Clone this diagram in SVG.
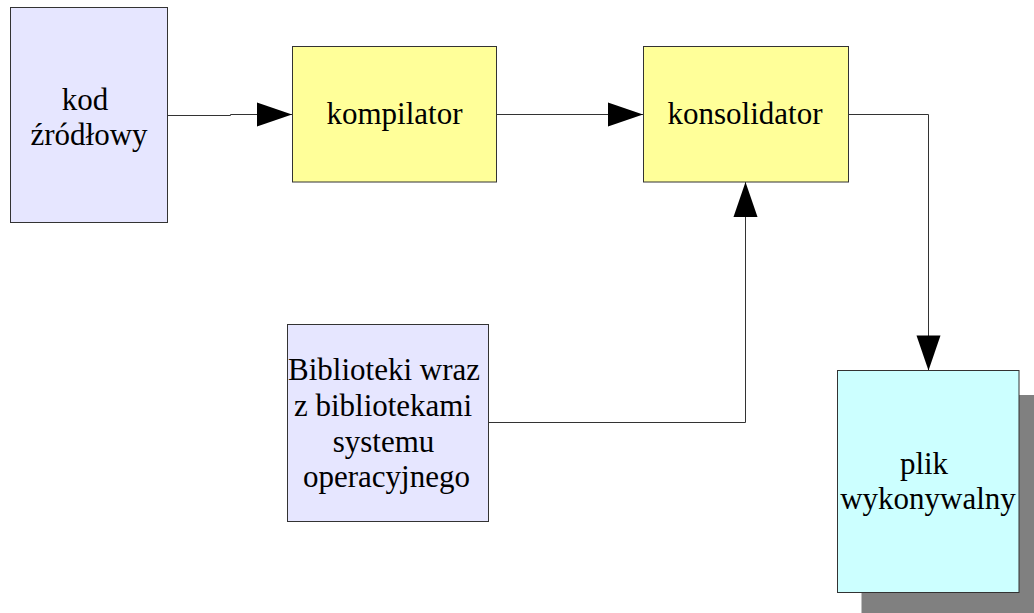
<svg xmlns="http://www.w3.org/2000/svg" width="1034" height="613" viewBox="0 0 1034 613">
  <style>
    .box { stroke: #333333; stroke-width: 1; }
    .src { fill: #e6e6ff; }
    .tool { fill: #ffff99; }
    .out { fill: #ccffff; }
    .shadow { fill: #808080; }
    .lbl { font-size: 31px; fill: #000000; text-anchor: middle; }
    .conn { fill: none; stroke: #333333; stroke-width: 1; }
  </style>
  <defs>
    <marker id="arrow" markerUnits="userSpaceOnUse" markerWidth="35" markerHeight="24" refX="35" refY="12" orient="auto" overflow="visible">
      <path d="M0,0 L35,12 L0,24 Z" fill="#000000"/>
    </marker>
  </defs>

  <rect width="1034" height="613" fill="#ffffff"/>

  <!-- connectors -->
  <g id="connectors">
    <path class="conn" d="M168,115.5 H230.5 V114.5 H292" marker-end="url(#arrow)"/>
    <path class="conn" d="M497,114.5 H643" marker-end="url(#arrow)"/>
    <path class="conn" d="M849,114.5 H928.5 V370.5" marker-end="url(#arrow)"/>
    <path class="conn" d="M488.5,422.5 H745.5 V182" marker-end="url(#arrow)"/>
  </g>

  <g font-family="'Liberation Serif', 'Times New Roman', Times, serif">
    <!-- source code -->
    <g id="kod-zrodlowy">
      <rect class="box src" x="10.5" y="7.5" width="157" height="215"/>
      <text class="lbl" x="85" y="110">kod</text>
      <text class="lbl" x="89" y="145">źródłowy</text>
    </g>

    <!-- compiler -->
    <g id="kompilator">
      <rect class="box tool" x="292.5" y="46.5" width="204" height="135.5"/>
      <text class="lbl" x="394.5" y="124">kompilator</text>
    </g>

    <!-- linker -->
    <g id="konsolidator">
      <rect class="box tool" x="643.5" y="46.5" width="205" height="135.5"/>
      <text class="lbl" x="745" y="124">konsolidator</text>
    </g>

    <!-- libraries -->
    <g id="biblioteki">
      <rect class="box src" x="287.5" y="324.5" width="201" height="197"/>
      <text class="lbl" x="384" y="380">Biblioteki wraz</text>
      <text class="lbl" x="383" y="416">z bibliotekami</text>
      <text class="lbl" x="383.5" y="451.5">systemu</text>
      <text class="lbl" x="386.5" y="487">operacyjnego</text>
    </g>

    <!-- executable -->
    <g id="plik-wykonywalny">
      <rect class="shadow" x="861.5" y="395" width="200" height="240"/>
      <rect class="box out" x="837.5" y="370.5" width="181.5" height="222"/>
      <text class="lbl" x="924" y="474">plik</text>
      <text class="lbl" x="928" y="508.5">wykonywalny</text>
    </g>
  </g>
</svg>
